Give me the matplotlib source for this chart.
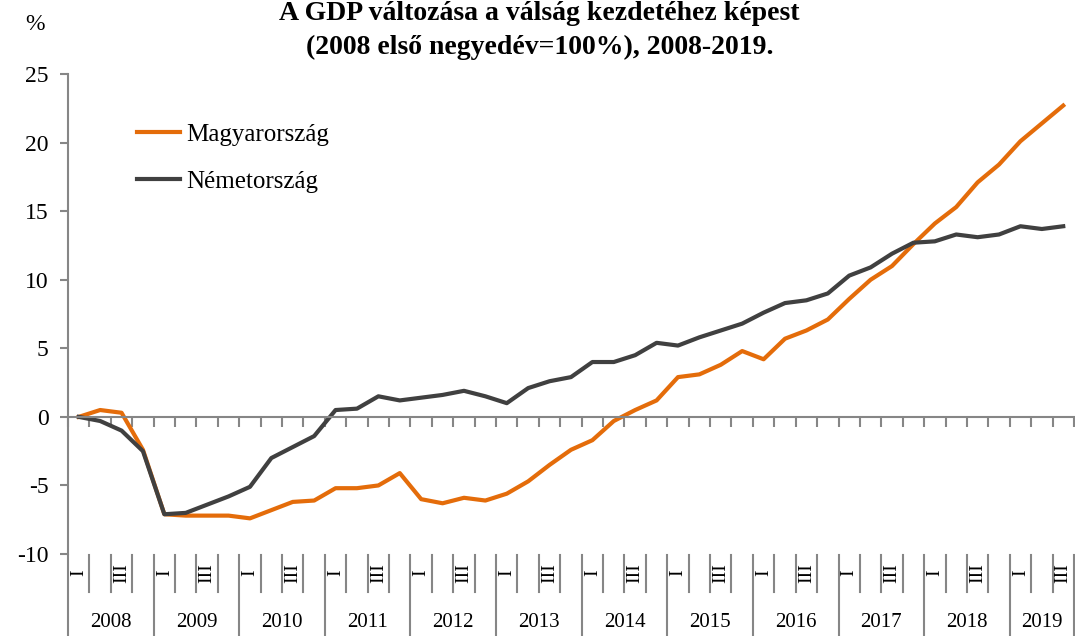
import numpy as np
import matplotlib.pyplot as plt
import matplotlib.transforms as mtransforms

years = ['2008', '2009', '2010', '2011', '2012', '2013', '2014', '2015',
         '2016', '2017', '2018', '2019']
quarters_per_year = [4, 4, 4, 4, 4, 4, 4, 4, 4, 4, 4, 3]
quarter_labels = ['I', '', 'III', '']

magyarorszag = [0.0, 0.5, 0.3, -2.4, -7.1, -7.2, -7.2, -7.2, -7.4, -6.8, -6.2, -6.1,
                -5.2, -5.2, -5.0, -4.1, -6.0, -6.3, -5.9, -6.1, -5.6, -4.7, -3.5, -2.4,
                -1.7, -0.3, 0.5, 1.2, 2.9, 3.1, 3.8, 4.8, 4.2, 5.7, 6.3, 7.1,
                8.6, 10.0, 11.0, 12.6, 14.1, 15.3, 17.1, 18.4, 20.1, 21.4, 22.7]
nemetorszag = [0.0, -0.3, -1.0, -2.5, -7.1, -7.0, -6.4, -5.8, -5.1, -3.0, -2.2, -1.4,
               0.5, 0.6, 1.5, 1.2, 1.4, 1.6, 1.9, 1.5, 1.0, 2.1, 2.6, 2.9,
               4.0, 4.0, 4.5, 5.4, 5.2, 5.8, 6.3, 6.8, 7.6, 8.3, 8.5, 9.0,
               10.3, 10.9, 11.9, 12.7, 12.8, 13.3, 13.1, 13.3, 13.9, 13.7, 13.9]

plt.rcParams['font.family'] = ['Liberation Serif', 'DejaVu Serif']
plt.rcParams['axes.unicode_minus'] = False
axis_gray = '#868686'

fig = plt.figure(figsize=(10.75, 6.36), dpi=100)
ax = fig.add_axes([0.0633, 0.1289, 0.9357, 0.7547])

x = np.arange(len(magyarorszag))
ax.plot(x, magyarorszag, color='#E46C0A', lw=3, label='Magyarország', solid_joinstyle='round')
ax.plot(x, nemetorszag, color='#404040', lw=3, label='Németország', solid_joinstyle='round')

ax.set_xlim(-0.5, len(x) - 0.5)
ax.set_ylim(-10, 25)
ax.set_yticks(range(-10, 26, 5))
ax.tick_params(axis='y', direction='out', length=6, color=axis_gray, width=1.5,
               labelsize=17, pad=8)

ax.spines['top'].set_visible(False)
ax.spines['right'].set_visible(False)
ax.spines['left'].set_color(axis_gray)
ax.spines['bottom'].set_color(axis_gray)
ax.spines['bottom'].set_position(('data', 0))
ax.spines['left'].set_linewidth(1.5)
ax.spines['bottom'].set_linewidth(1.5)
ax.set_xticks(np.arange(-0.5, len(x), 1))
ax.set_xticklabels([])
ax.tick_params(axis='x', direction='out', length=7, color=axis_gray, width=1.5)

# multi-level category labels below the plot
trans = mtransforms.blended_transform_factory(ax.transData, ax.transAxes)
h = ax.get_position().height * 6.36 * 100
def ay(px):
    return -(px - 554) / h

start = 0
for yr, nq in zip(years, quarters_per_year):
    for q in range(nq):
        pos = start + q
        if q > 0:
            ax.plot([pos - 0.5, pos - 0.5], [ay(555), ay(592)], transform=trans,
                    color=axis_gray, lw=1.5, clip_on=False)
        if quarter_labels[q]:
            ax.text(pos, ay(573), quarter_labels[q], transform=trans, rotation=90,
                    ha='center', va='center', fontsize=14)
    ax.plot([start - 0.5, start - 0.5], [ay(555), ay(640)], transform=trans,
            color=axis_gray, lw=1.5, clip_on=False)
    ax.text(start - 0.5 + nq / 2, ay(622), yr, transform=trans,
            ha='center', va='center', fontsize=15)
    start += nq
ax.plot([start - 0.5, start - 0.5], [ay(555), ay(640)], transform=trans,
        color=axis_gray, lw=1.5, clip_on=False)

ax.legend(loc='upper left', bbox_to_anchor=(0.0686, 0.8975), frameon=False,
          fontsize=18, handlelength=1.7, labelspacing=1.0, handletextpad=0.25,
          borderpad=0, borderaxespad=0)

fig.text(0.502, 1 - 13 / 636, 'A GDP változása a válság kezdetéhez képest',
         ha='center', va='center', fontsize=20, fontweight='bold')
fig.text(0.502, 1 - 47 / 636, '(2008 első negyedév=100%), 2008-2019.',
         ha='center', va='center', fontsize=20, fontweight='bold')
fig.text(35 / 1075, 1 - 24 / 636, '%', ha='center', va='center', fontsize=17)

fig.savefig('out.png', dpi=100)
